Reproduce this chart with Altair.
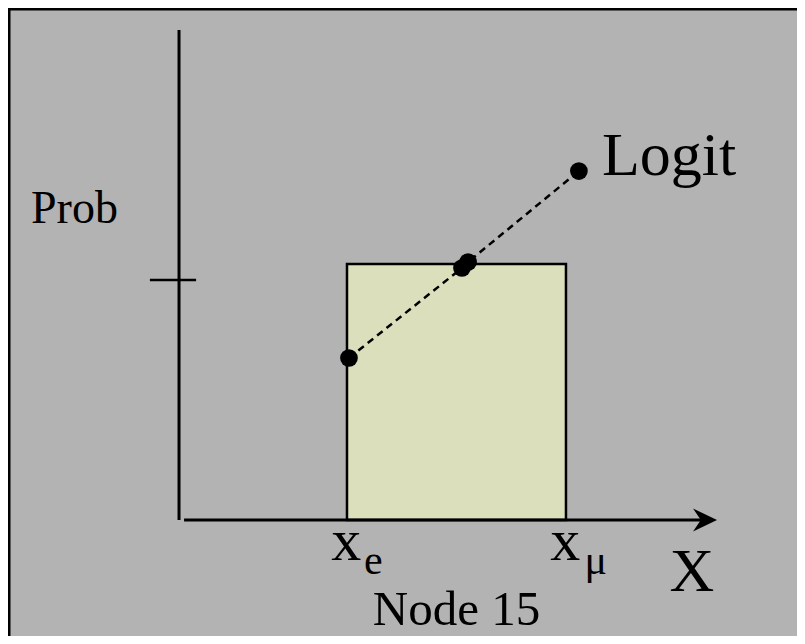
import altair as alt
import pandas as pd

# ---- data (diagram units: x_e = 1, x_mu = 2; y: 0 = baseline, 1 = tick) ----
box_x = [1.0]
box_x2 = [2.0]
box_top = [1.067]

logit_x = [1.009, 1.525, 1.553, 2.059]
logit_y = [0.675, 1.050, 1.075, 1.454]

yaxis_x = [0.233]
yaxis_top = [2.042]
xaxis_start = [0.256]
xaxis_end = [2.635]
tick_x = [0.100]
tick_x2 = [0.311]
tick_y = [1.0]

left_labels = ["Prob", "Logit", "e", "μ"]
left_x = [-0.443, 2.164, 1.078, 2.085]
left_y = [1.2375, 1.4375, -0.225, -0.225]
left_fs = [46, 62, 42, 42]

center_labels = ["x", "x", "X", "Node 15"]
center_x = [0.997, 1.997, 2.575, 1.5]
center_y = [-0.1667, -0.1667, -0.296, -0.4375]
center_fs = [60, 60, 62, 49]

XDOM = [-0.548, 3.055]
YDOM = [-0.4833, 2.1333]
FONT = "Liberation Serif"

xs = alt.Scale(domain=XDOM, nice=False, zero=False)
ys = alt.Scale(domain=YDOM, nice=False, zero=False)

box_df = pd.DataFrame({"x": box_x, "x2": box_x2, "y": [0.0], "y2": box_top})
pts_df = pd.DataFrame({"x": logit_x, "y": logit_y})
yaxis_df = pd.DataFrame({"x": yaxis_x, "y": [0.0], "y2": yaxis_top})
xaxis_df = pd.DataFrame({"x": xaxis_start, "x2": xaxis_end, "y": [0.0]})
tick_df = pd.DataFrame({"x": tick_x, "x2": tick_x2, "y": tick_y})
arrow_df = pd.DataFrame({"x": xaxis_end, "y": [0.0]})
left_df = pd.DataFrame({"t": left_labels, "x": left_x, "y": left_y, "fs": left_fs})
center_df = pd.DataFrame({"t": center_labels, "x": center_x, "y": center_y, "fs": center_fs})

box = alt.Chart(box_df).mark_rect(fill="#dcdfbb", stroke="black", strokeWidth=2.5).encode(
    x=alt.X("x:Q", scale=xs, axis=None), x2="x2:Q",
    y=alt.Y("y:Q", scale=ys, axis=None), y2="y2:Q")

yaxis = alt.Chart(yaxis_df).mark_rule(color="black", strokeWidth=3).encode(
    x=alt.X("x:Q", scale=xs, axis=None),
    y=alt.Y("y:Q", scale=ys, axis=None), y2="y2:Q")

xaxis = alt.Chart(xaxis_df).mark_rule(color="black", strokeWidth=3).encode(
    x=alt.X("x:Q", scale=xs, axis=None), x2="x2:Q",
    y=alt.Y("y:Q", scale=ys, axis=None))

tick = alt.Chart(tick_df).mark_rule(color="black", strokeWidth=2.5).encode(
    x=alt.X("x:Q", scale=xs, axis=None), x2="x2:Q",
    y=alt.Y("y:Q", scale=ys, axis=None))

arrow = alt.Chart(arrow_df).mark_point(
    shape="M 1 0 L -1 -0.95 L -0.35 0 L -1 0.95 Z",
    filled=True, color="black", opacity=1, size=576, strokeWidth=0).encode(
    x=alt.X("x:Q", scale=xs, axis=None),
    y=alt.Y("y:Q", scale=ys, axis=None))

dash = alt.Chart(pts_df).mark_line(color="black", strokeWidth=2.5, strokeDash=[7, 5]).encode(
    x=alt.X("x:Q", scale=xs, axis=None),
    y=alt.Y("y:Q", scale=ys, axis=None))

dots = alt.Chart(pts_df).mark_circle(color="black", opacity=1, size=314).encode(
    x=alt.X("x:Q", scale=xs, axis=None),
    y=alt.Y("y:Q", scale=ys, axis=None))

left_text = alt.Chart(left_df).mark_text(
    align="left", baseline="alphabetic", font=FONT, color="black").encode(
    x=alt.X("x:Q", scale=xs, axis=None),
    y=alt.Y("y:Q", scale=ys, axis=None),
    text="t:N",
    size=alt.Size("fs:Q", scale=None, legend=None))

center_text = alt.Chart(center_df).mark_text(
    align="center", baseline="alphabetic", font=FONT, color="black").encode(
    x=alt.X("x:Q", scale=xs, axis=None),
    y=alt.Y("y:Q", scale=ys, axis=None),
    text="t:N",
    size=alt.Size("fs:Q", scale=None, legend=None))

# slide frame edges (top and left)
frame_top = alt.Chart(pd.DataFrame({"a": [0]})).mark_rule(color="black", strokeWidth=3).encode(
    x=alt.value(0), x2=alt.value(789), y=alt.value(1))
frame_left = alt.Chart(pd.DataFrame({"a": [0]})).mark_rule(color="black", strokeWidth=3).encode(
    x=alt.value(1), y=alt.value(0), y2=alt.value(628))

chart = alt.layer(
    box, yaxis, xaxis, tick, arrow, dash, dots, left_text, center_text, frame_top, frame_left
).properties(
    width=789, height=628, background="#b3b3b3", padding=0,
    autosize=alt.AutoSizeParams(type="none")
).configure_view(stroke=None)

chart.save("out.html", embed_options={"renderer": "svg", "actions": False})
